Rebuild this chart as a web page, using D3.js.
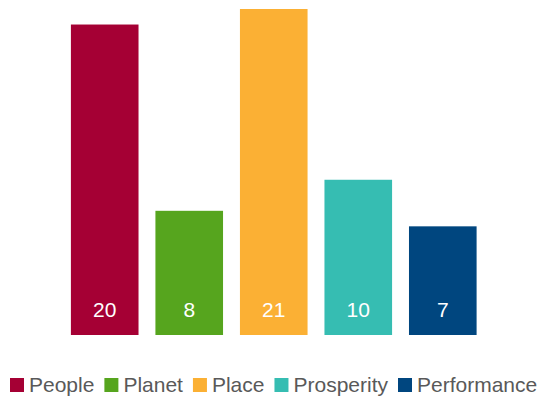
<!DOCTYPE html>
<html>
<head>
<meta charset="utf-8">
<script src="https://cdn.jsdelivr.net/npm/d3@7"></script>
<style>
  html, body { margin: 0; padding: 0; background: #ffffff; }
  svg { display: block; }
</style>
</head>
<body>
<svg id="chart" width="549" height="397"></svg>
<script>
// Chart data
const categories = ["People", "Planet", "Place", "Prosperity", "Performance"];
const values = [20, 8, 21, 10, 7];
const colors = ["#A50034", "#56A51E", "#FBB034", "#36BDB2", "#00467F"];

const svg = d3.select("#chart");
const font = "'Liberation Sans', Arial, sans-serif";

const x = d3.scaleBand()
  .domain(categories)
  .range([54, 493.5])
  .paddingInner(0.2)
  .paddingOuter(0.2);

const y = d3.scaleLinear()
  .domain([0, 21])
  .range([335, 9]);

const color = d3.scaleOrdinal().domain(categories).range(colors);

const data = categories.map((c, i) => ({ cat: c, value: values[i] }));

// Bars
svg.append("g").selectAll("rect")
  .data(data)
  .join("rect")
  .attr("x", d => x(d.cat))
  .attr("y", d => y(d.value))
  .attr("width", x.bandwidth())
  .attr("height", d => y(0) - y(d.value))
  .attr("fill", d => color(d.cat));

// Value labels inside the base of each bar
svg.append("g").selectAll("text")
  .data(data)
  .join("text")
  .attr("x", d => x(d.cat) + x.bandwidth() / 2)
  .attr("y", y(0) - 18)
  .attr("text-anchor", "middle")
  .attr("font-family", font)
  .attr("font-size", 21)
  .attr("fill", "#ffffff")
  .text(d => d.value);

// Legend
const legend = svg.append("g").attr("transform", "translate(10, 392)");
let offset = 0;
categories.forEach((c, i) => {
  const item = legend.append("g").attr("transform", `translate(${offset},0)`);
  item.append("rect")
    .attr("x", 0).attr("y", -14)
    .attr("width", 14).attr("height", 14)
    .attr("fill", color(c));
  const t = item.append("text")
    .attr("x", 19).attr("y", 0)
    .attr("font-family", font)
    .attr("font-size", 21)
    .attr("fill", "#595959")
    .text(c);
  offset += 19 + t.node().getComputedTextLength() + 10;
});
</script>
</body>
</html>
